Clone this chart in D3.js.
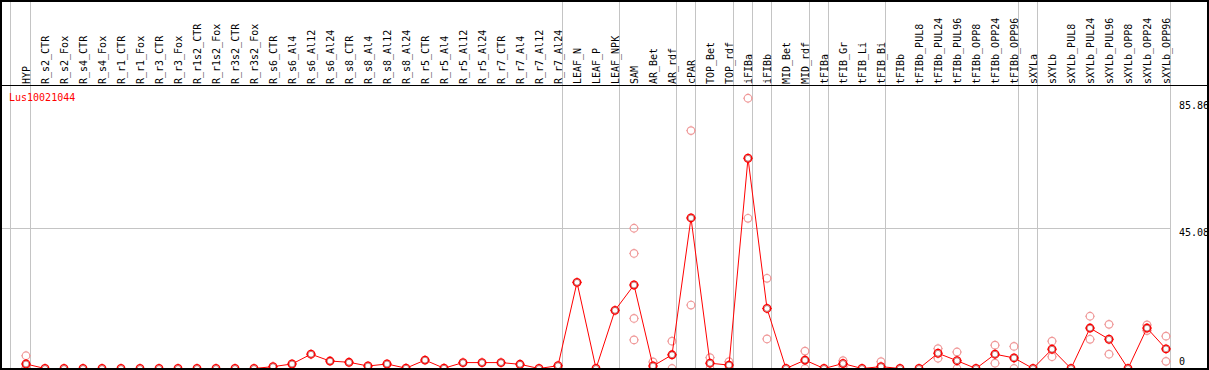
<!DOCTYPE html>
<html>
<head>
<meta charset="utf-8">
<script src="https://cdn.jsdelivr.net/npm/d3@7"></script>
<style>
  html, body { margin: 0; padding: 0; background: #fff; }
  svg { display: block; }
  text { font-family: "DejaVu Sans Mono", monospace; font-size: 10px; }
</style>
</head>
<body>
<svg id="chart" width="1209" height="370"></svg>
<script>
const categories = ["HYP","R_s2_CTR","R_s2_Fox","R_s4_CTR","R_s4_Fox","R_r1_CTR","R_r1_Fox","R_r3_CTR","R_r3_Fox","R_r1s2_CTR","R_r1s2_Fox","R_r3s2_CTR","R_r3s2_Fox","R_s6_CTR","R_s6_Al4","R_s6_Al12","R_s6_Al24","R_s8_CTR","R_s8_Al4","R_s8_Al12","R_s8_Al24","R_r5_CTR","R_r5_Al4","R_r5_Al12","R_r5_Al24","R_r7_CTR","R_r7_Al4","R_r7_Al12","R_r7_Al24","LEAF_N","LEAF_P","LEAF_NPK","SAM","AR_Bet","AR_rdf","cPAR","TOP_Bet","TOP_rdf","iFIBa","iFIBb","MID_Bet","MID_rdf","tFIBa","tFIB_Gr","tFIB_Li","tFIB_Bi","tFIBb","tFIBb_PUL8","tFIBb_PUL24","tFIBb_PUL96","tFIBb_OPP8","tFIBb_OPP24","tFIBb_OPP96","sXYLa","sXYLb","sXYLb_PUL8","sXYLb_PUL24","sXYLb_PUL96","sXYLb_OPP8","sXYLb_OPP24","sXYLb_OPP96"];

const meanValues = [1.45,0,0,0,0,0,0,0,0,0,0,0,0,0.6,1.45,4.6,2.4,2.0,0.8,1.45,0.1,2.7,0.1,1.9,1.9,1.9,1.35,0,0.9,27.7,0,18.7,26.85,0.8,4.4,48.4,1.7,1.1,67.6,19.3,0,2.7,0,1.6,0,0.6,0,0,4.9,2.5,0,4.6,3.4,0,6.2,0,13.0,9.4,0,13.0,6.3];

// replicate values for categories where they are visible
const replicateCategories = ["HYP","SAM","AR_Bet","AR_rdf","cPAR","TOP_Bet","TOP_rdf","iFIBa","iFIBb","MID_rdf","tFIB_Gr","tFIB_Bi","tFIBb_PUL24","tFIBb_PUL96","tFIBb_OPP24","tFIBb_OPP96","sXYLb","sXYLb_PUL24","sXYLb_PUL96","sXYLb_OPP24","sXYLb_OPP96"];
const replicateValues = [[4.1,0.3],[45.1,37.0,16.1,9.2],[2.1,0],[8.8,0],[76.5,20.4],[3.5,0],[2.2,0],[86.9,48.3],[29.0,9.5],[5.6,0],[2.5,0.6],[2.2,0],[6.4,3.3],[5.3,0],[7.5,1.7],[7.1,0],[8.8,3.8],[16.8,9.4],[14.2,4.6],[14.0,12.2],[10.4,2.3]];

// last category of each group (group separators drawn after these)
const groupEnds = ["HYP","R_r7_Al24","LEAF_NPK","AR_rdf","cPAR","TOP_rdf","iFIBa","iFIBb","MID_rdf","tFIBa","tFIB_Bi","tFIBb_OPP96","sXYLa","sXYLb_OPP96"];

const yTicks = [0, 45.08, 85.86];
const geneName = "Lus10021044";

const W = 1209, H = 370;
const svg = d3.select("#chart");

const x = d3.scalePoint().domain(categories).range([26, 1166]);
const y = d3.scaleLinear().domain([0, 45.08]).range([368.5, 228.3]);

const gridColor = "#c4c4c4";

// horizontal grid line at middle tick
svg.append("g").selectAll("line")
  .data(yTicks.filter(v => v > 0 && v < 50))
  .join("line")
  .attr("x1", 0).attr("x2", x(categories[categories.length-1]) + 4.5)
  .attr("y1", d => Math.round(y(d)) + 0.5).attr("y2", d => Math.round(y(d)) + 0.5)
  .attr("stroke", gridColor).attr("stroke-width", 1);

// vertical group lines
const vx = [x(categories[0]) - 15.5].concat(groupEnds.map(c => x(c) + 4.5));
svg.append("g").selectAll("line")
  .data(vx)
  .join("line")
  .attr("x1", d => d).attr("x2", d => d)
  .attr("y1", 0).attr("y2", H)
  .attr("stroke", gridColor).attr("stroke-width", 1);

// header separator
svg.append("line")
  .attr("x1", 0).attr("x2", W).attr("y1", 85.5).attr("y2", 85.5)
  .attr("stroke", "#000").attr("stroke-width", 1);

// category labels
svg.append("g").selectAll("text")
  .data(categories)
  .join("text")
  .attr("transform", d => `translate(${x(d) + 3.5},84) rotate(-90)`)
  .attr("text-anchor", "start")
  .attr("fill", "#000")
  .text(d => d);

// circle marker helper with small ticks
function marker(g, cx, cy, color, sw) {
  const r = 3.8;
  g.append("circle").attr("cx", cx).attr("cy", cy).attr("r", r)
    .attr("fill", "none").attr("stroke", color).attr("stroke-width", sw);
  [[0,-1],[0,1],[-1,0],[1,0]].forEach(([dx,dy]) => {
    g.append("line")
      .attr("x1", cx + dx*(r)).attr("y1", cy + dy*(r))
      .attr("x2", cx + dx*(r+1.2)).attr("y2", cy + dy*(r+1.2))
      .attr("stroke", color).attr("stroke-width", 0.8);
  });
}

// replicates
const repG = svg.append("g");
replicateCategories.forEach((c, i) => {
  replicateValues[i].forEach(v => marker(repG, x(c), y(v), "#f09a9a", 1.2));
});

// mean line
const line = d3.line().x((d, i) => x(categories[i])).y(d => y(d));
svg.append("path").datum(meanValues)
  .attr("d", line).attr("fill", "none").attr("stroke", "#ff0000").attr("stroke-width", 1);

// mean markers
const meanG = svg.append("g");
meanValues.forEach((v, i) => {
  meanG.append("circle").attr("cx", x(categories[i])).attr("cy", y(v)).attr("r", 3.8)
    .attr("fill", "#fff").attr("stroke", "none");
  marker(meanG, x(categories[i]), y(v), "#ff0000", 1.3);
  meanG.append("circle").attr("cx", x(categories[i])).attr("cy", y(v)).attr("r", 2.9)
    .attr("fill", "none").attr("stroke", "#900000").attr("stroke-width", 0.5);
});

// gene label
svg.append("text").attr("x", 9).attr("y", 101).attr("fill", "#ff0000").text(geneName);

// right axis labels
svg.append("g").selectAll("text")
  .data(yTicks)
  .join("text")
  .attr("x", 1179)
  .attr("y", d => Math.min(y(d) + 8, 365))
  .attr("fill", "#000")
  .text(d => d === 0 ? "0" : d3.format(".2f")(d));

// frame
svg.append("rect").attr("x", 0).attr("y", 0).attr("width", W).attr("height", H)
  .attr("fill", "none").attr("stroke", "#000").attr("stroke-width", 4);
</script>
</body>
</html>
